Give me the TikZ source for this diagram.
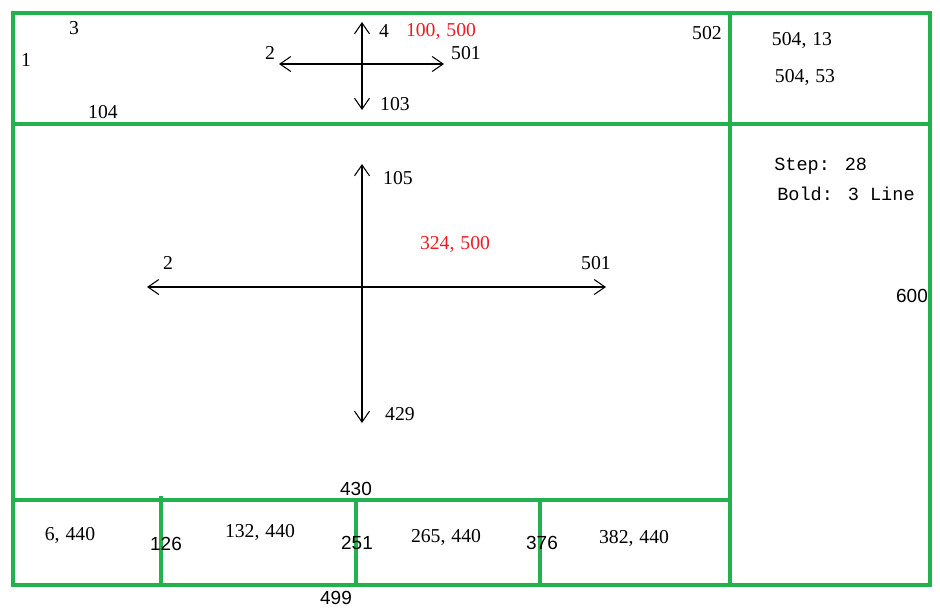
\documentclass[tikz,border=0pt]{standalone}
\usepackage{fontspec}
\setmainfont{Liberation Serif}
\newfontfamily\sansf{Liberation Sans}
\newfontfamily\monof{Liberation Mono}
\usetikzlibrary{arrows.meta}
\definecolor{paintgreen}{RGB}{34,177,76}
\definecolor{paintred}{RGB}{237,28,36}
\newcommand{\cm}{,\hspace{0.3em}}
\tikzset{
  frame/.style={draw=paintgreen, line width=2.5pt, line cap=rect},
  axis/.style={draw=black, line width=0.75pt, {Straight Barb[length=7.8pt,width=10.7pt]}-{Straight Barb[length=7.8pt,width=10.7pt]}},
  lbl/.style={inner sep=0pt, font=\fontsize{14}{16}\selectfont},
  redlbl/.style={lbl, text=paintred},
  slbl/.style={inner sep=0pt, font=\sansf\fontsize{13.5}{15}\selectfont},
  mlbl/.style={inner sep=0pt, anchor=west, font=\monof\fontsize{13.2}{15}\selectfont},
}
\begin{document}
\begin{tikzpicture}[x=0.025cm, y=-0.025cm]
\useasboundingbox (0,0) rectangle (940,614);
% frame
\draw[frame] (13,13) rectangle (930,585);
\draw[frame] (730,13) -- (730,585);
\draw[frame] (13,124) -- (930,124);
\draw[frame] (13,500) -- (730,500);
\draw[frame] (161,498) -- (161,585);
\draw[frame] (356,500) -- (356,585);
\draw[frame] (540,500) -- (540,585);
% top cross
\coordinate (tN) at (362,22);
\coordinate (tS) at (362,110);
\coordinate (tW) at (279,64);
\coordinate (tE) at (444,64);
\draw[axis] (tW) -- (tE);
\draw[axis] (tN) -- (tS);
% middle cross
\coordinate (mN) at (362,164);
\coordinate (mS) at (362,423);
\coordinate (mW) at (147,287);
\coordinate (mE) at (606,287);
\draw[axis] (mW) -- (mE);
\draw[axis] (mN) -- (mS);
% labels top band
\node[lbl] (l3) at (74,28) {3};
\node[lbl] (l1) at (26,60) {1};
\node[lbl] (l104) at (103,112) {104};
\node[lbl] (lt2) at (270,53) {2};
\node[lbl] (l4) at (384,31) {4};
\node[redlbl] (lt100) at (441,31) {100\cm500};
\node[lbl] (lt501) at (466,53) {501};
\node[lbl] (l103) at (395,104) {103};
\node[lbl] (l502) at (707,33) {502};
\node[lbl] (l504a) at (802,40) {504\cm13};
\node[lbl] (l504b) at (805,77) {504\cm53};
% right column
\node[mlbl] (lstep) at (774,166) {Step: 28};
\node[mlbl] (lbold) at (777,194) {Bold: 3 Line};
\node[slbl] (l600) at (912,296) {600};
% middle
\node[lbl] (l105) at (398,178) {105};
\node[redlbl] (lm324) at (455,244) {324\cm500};
\node[lbl] (lm2) at (168,263) {2};
\node[lbl] (lm501) at (596,263) {501};
\node[lbl] (l429) at (400,414) {429};
\node[slbl] (l430) at (356,489) {430};
% bottom
\node[lbl] (l6) at (70,535) {6\cm440};
\node[slbl] (l126) at (166,544) {126};
\node[lbl] (l132) at (260,532) {132\cm440};
\node[slbl] (l251) at (357,543) {251};
\node[lbl] (l265) at (446,537) {265\cm440};
\node[slbl] (l376) at (542,543) {376};
\node[lbl] (l382) at (634,538) {382\cm440};
\node[slbl] (l499) at (336,598) {499};
\end{tikzpicture}
\end{document}
